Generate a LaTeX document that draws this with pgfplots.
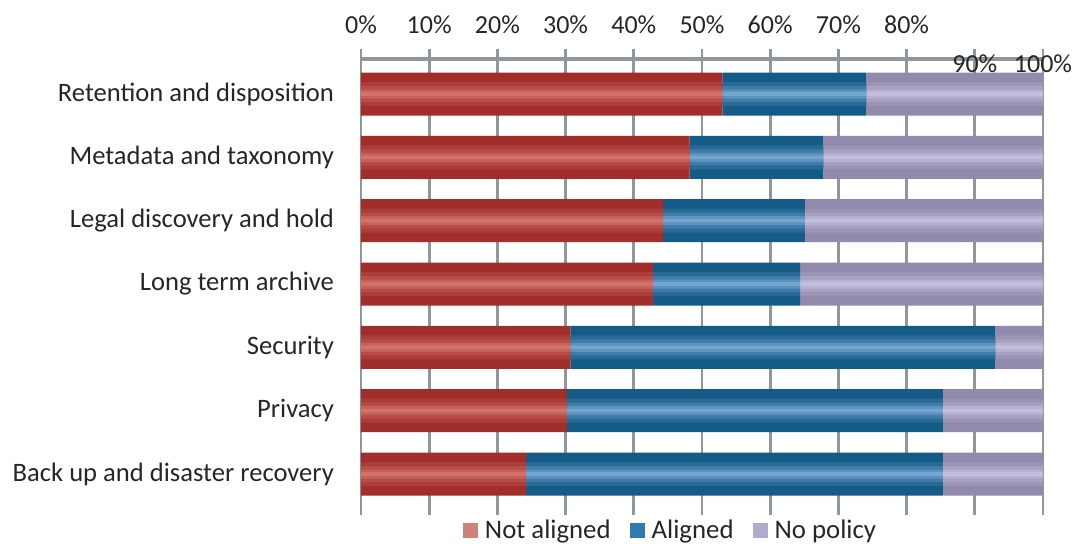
\documentclass[border=0pt]{standalone}
\usepackage{fontspec}
\setmainfont{Carlito}
\usepackage{pgfplots}
\usepackage{pgfplotstable}
\pgfplotsset{compat=1.18}
\definecolor{reddark}{HTML}{A12E2A}
\definecolor{redlight}{HTML}{D2726A}
\definecolor{bluedark}{HTML}{145B87}
\definecolor{bluelight}{HTML}{74A6D1}
\definecolor{lavdark}{HTML}{918AAC}
\definecolor{lavlight}{HTML}{C3BEDC}
\definecolor{legred}{HTML}{CC837C}
\definecolor{legblue}{HTML}{2F7BAE}
\definecolor{leglav}{HTML}{B0ABCE}
\definecolor{gridgray}{HTML}{8F969D}
\definecolor{txt}{HTML}{262626}
\pgfplotstableread{
cat na al np
0 24.2 61.1 14.7
1 30.2 55.1 14.7
2 30.7 62.3 7.0
3 42.8 21.6 35.6
4 44.3 20.8 34.9
5 48.2 19.6 32.2
6 53.0 21.1 25.9
}\data
\pgfplotsset{base/.style={
  at={(0,0)}, anchor=south west, scale only axis,
  width=341pt, height=228pt,
  xbar stacked,
  xmin=0, xmax=100, ymin=-0.647, ymax=6.553}}
\newcommand\layer[2]{%
\begin{axis}[base, hide axis, bar width=#1]
\addplot[draw=none, fill=redlight!#2!reddark] table[x=na,y=cat]{\data};
\addplot[draw=none, fill=bluelight!#2!bluedark] table[x=al,y=cat]{\data};
\addplot[draw=none, fill=lavlight!#2!lavdark] table[x=np,y=cat]{\data};
\end{axis}}
\begin{document}
\begin{tikzpicture}
\begin{axis}[
  base, bar width=21.5pt,
  axis x line*=top, axis y line*=left,
  x axis line style={draw=gridgray, line width=1.6pt},
  y axis line style={draw=gridgray, line width=1.4pt},
  xtick={0,10,...,80},
  xticklabels={0\%,10\%,20\%,30\%,40\%,50\%,60\%,70\%,80\%},
  extra x ticks={90,100},
  extra x tick labels={90\%,100\%},
  extra x tick style={grid=major, xticklabel style={yshift=-19.5pt}},
  xticklabel style={yshift=4pt},
  xmajorgrids,
  major grid style={draw=gridgray, line width=1.4pt},
  tick align=outside, major tick length=5pt,
  x tick style={draw=gridgray, line width=1.4pt},
  y tick style={draw=none},
  ytick={0,1,2,3,4,5,6},
  yticklabels={Back up and disaster recovery, Privacy, Security, Long term archive, Legal discovery and hold, Metadata and taxonomy, Retention and disposition},
  tick label style={text=txt},
  xticklabel style={font=\fontsize{13}{15}\selectfont},
  yticklabel style={font=\fontsize{13.3}{15}\selectfont, xshift=-5pt},
  legend columns=-1,
  legend style={at={(0.4553,-0.034)}, anchor=center, draw=none, fill=none,
    font=\fontsize{13.4}{15}\selectfont, text=txt,
    /tikz/every odd column/.append style={column sep=1.5pt},
    /tikz/every even column/.append style={column sep=7.5pt}},
]
\addplot[draw=none, fill=reddark,
  legend image code/.code={\fill[legred] (0pt,-3.75pt) rectangle (7.5pt,3.75pt);}]
  table[x=na,y=cat]{\data};
\addlegendentry{Not aligned}
\addplot[draw=none, fill=bluedark,
  legend image code/.code={\fill[legblue] (0pt,-3.75pt) rectangle (7.5pt,3.75pt);}]
  table[x=al,y=cat]{\data};
\addlegendentry{Aligned}
\addplot[draw=none, fill=lavdark,
  legend image code/.code={\fill[leglav] (0pt,-3.75pt) rectangle (7.5pt,3.75pt);}]
  table[x=np,y=cat]{\data};
\addlegendentry{No policy}
\end{axis}
\layer{12pt}{20}
\layer{8pt}{45}
\layer{4.5pt}{75}
\layer{1.8pt}{100}
\pgfresetboundingbox
\path[use as bounding box] (-180.5pt,-15.5pt) rectangle (356.5pt,257.5pt);
\end{tikzpicture}
\end{document}
